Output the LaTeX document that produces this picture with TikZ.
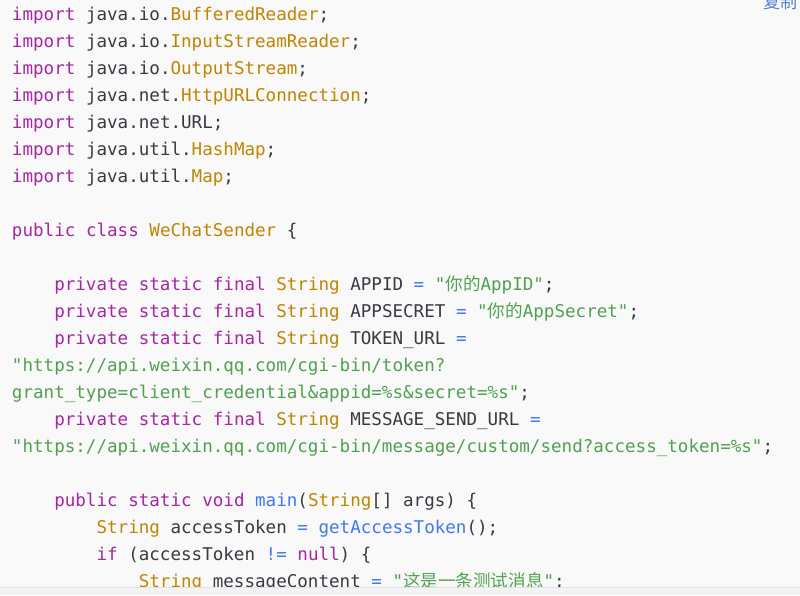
\documentclass[tikz,border=0pt]{standalone}
\usepackage{fontspec}
\setmonofont{DejaVu Sans Mono}
\newfontfamily\cjk{Noto Sans CJK SC}
\definecolor{bgcol}{HTML}{F9F9FA}
\definecolor{bottomcol}{HTML}{F3F3F4}
\definecolor{edgecol}{HTML}{E2E2E4}
\definecolor{plaincol}{HTML}{383A42}
\definecolor{kwcol}{HTML}{A626A4}
\definecolor{tycol}{HTML}{C18401}
\definecolor{strcol}{HTML}{50A14F}
\definecolor{opcol}{HTML}{4078F2}
\definecolor{copycol}{HTML}{5182D6}
\newcommand\ckw[1]{\textcolor{kwcol}{#1}}
\newcommand\cty[1]{\textcolor{tycol}{#1}}
\newcommand\cstr[1]{\textcolor{strcol}{#1}}
\newcommand\cop[1]{\textcolor{opcol}{#1}}
\newcommand\cfn[1]{\textcolor{opcol}{#1}}
\newcommand\codefont{\ttfamily\fontsize{17.56}{20}\selectfont}
\tikzset{
  codeline/.style={anchor=base west, inner sep=0pt, outer sep=0pt, font=\codefont, text=plaincol},
  copylabel/.style={anchor=base west, inner sep=0pt, font=\cjk\fontsize{17}{20}\selectfont, text=copycol}
}
\begin{document}
\begin{tikzpicture}[x=1pt,y=-1pt]
\useasboundingbox (0,0) rectangle (800,595);
\fill[bgcol] (0,0) rectangle (800,595);
\fill[bottomcol] (0,587) rectangle (800,595);
\draw[edgecol, line width=0.8pt] (0,587) -- (800,587);
\begin{scope}
\clip (0,0) rectangle (800,586.6);
\node[copylabel] (copy) at (763,8.5) {复制};
% indentation: one column = 10.57
\node[codeline] (l0) at (12,20.5) {\ckw{import} java.io.\cty{BufferedReader};};
\node[codeline] (l1) at (12,47.5) {\ckw{import} java.io.\cty{InputStreamReader};};
\node[codeline] (l2) at (12,74.5) {\ckw{import} java.io.\cty{OutputStream};};
\node[codeline] (l3) at (12,101.5) {\ckw{import} java.net.\cty{HttpURLConnection};};
\node[codeline] (l4) at (12,128.5) {\ckw{import} java.net.URL;};
\node[codeline] (l5) at (12,155.5) {\ckw{import} java.util.\cty{HashMap};};
\node[codeline] (l6) at (12,182.5) {\ckw{import} java.util.\cty{Map};};
\node[codeline] (l8) at (12,236.5) {\ckw{public} \ckw{class} \cty{WeChatSender} \{};
\node[codeline] (l10) at (54.28,290.5) {\ckw{private} \ckw{static} \ckw{final} \cty{String} APPID \cop{=} \cstr{"{\cjk 你的}AppID"};};
\node[codeline] (l11) at (54.28,317.5) {\ckw{private} \ckw{static} \ckw{final} \cty{String} APPSECRET \cop{=} \cstr{"{\cjk 你的}AppSecret"};};
\node[codeline] (l12) at (54.28,344.5) {\ckw{private} \ckw{static} \ckw{final} \cty{String} TOKEN\_URL \cop{=}};
\node[codeline] (l13) at (12,371.5) {\cstr{"https://api.weixin.qq.com/cgi-bin/token?}};
\node[codeline] (l14) at (12,398.5) {\cstr{grant\_type=client\_credential\&appid=\%s\&secret=\%s"};};
\node[codeline] (l15) at (54.28,425.5) {\ckw{private} \ckw{static} \ckw{final} \cty{String} MESSAGE\_SEND\_URL \cop{=}};
\node[codeline] (l16) at (12,452.5) {\cstr{"https://api.weixin.qq.com/cgi-bin/message/custom/send?access\_token=\%s"};};
\node[codeline] (l18) at (54.28,506.5) {\ckw{public} \ckw{static} \ckw{void} \cfn{main}(\cty{String}[] args) \{};
\node[codeline] (l19) at (96.56,533.5) {\cty{String} accessToken \cop{=} \cfn{getAccessToken}();};
\node[codeline] (l20) at (96.56,560.5) {\ckw{if} (accessToken \cop{!=} \ckw{null}) \{};
\node[codeline] (l21) at (138.84,587.5) {\cty{String} messageContent \cop{=} \cstr{"{\cjk 这是一条测试消息}"};};
\end{scope}
\end{tikzpicture}
\end{document}
